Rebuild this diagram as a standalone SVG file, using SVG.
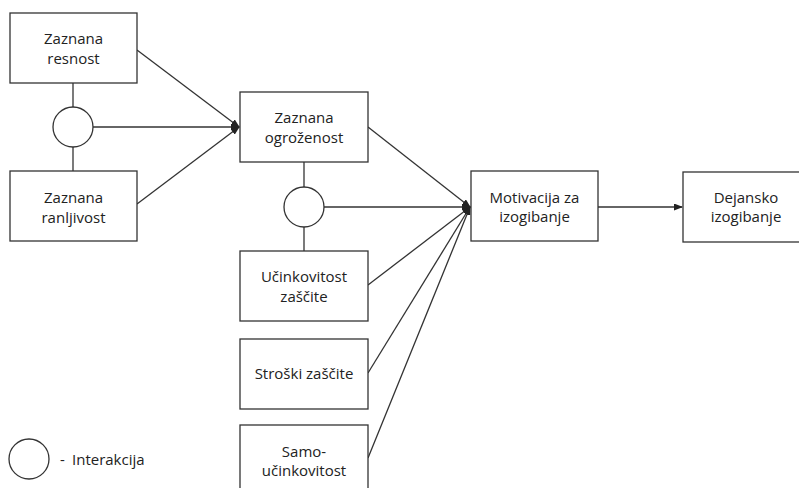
<svg xmlns="http://www.w3.org/2000/svg" width="799" height="488" viewBox="0 0 799 488">
<style>
.box{fill:#fff;stroke:#333;stroke-width:1.3}
.circ{fill:#fff;stroke:#333;stroke-width:1.3}
.ln{fill:none;stroke:#333;stroke-width:1.3}
.arr{fill:none;stroke:#333;stroke-width:1.3;marker-end:url(#ah)}
text{font-family:"Open Sans","Liberation Sans",sans-serif;font-size:15px;fill:#222;text-anchor:middle}
.lg{text-anchor:start}
</style>
<defs>
<marker id="ah" markerUnits="userSpaceOnUse" markerWidth="9" markerHeight="7" refX="8" refY="3.5" orient="auto">
<path d="M0,0 L9,3.5 L0,7 z" fill="#222"/>
</marker>
</defs>
<rect width="799" height="488" fill="#fff"/>
<g id="connectors">
<line class="ln" x1="73" y1="83" x2="73" y2="107"/>
<line class="ln" x1="73" y1="147" x2="73" y2="171"/>
<line class="arr" x1="137" y1="50" x2="239" y2="127"/>
<line class="arr" x1="93" y1="127" x2="239" y2="127"/>
<line class="arr" x1="137" y1="204" x2="239" y2="127"/>
<line class="ln" x1="304" y1="162" x2="304" y2="187"/>
<line class="ln" x1="304" y1="227" x2="304" y2="251"/>
<line class="arr" x1="368" y1="127" x2="470" y2="207"/>
<line class="arr" x1="324" y1="207" x2="470" y2="207"/>
<line class="arr" x1="368" y1="285" x2="470" y2="207"/>
<line class="arr" x1="368" y1="373" x2="470" y2="207"/>
<line class="arr" x1="368" y1="458" x2="470" y2="207"/>
<line class="arr" x1="598" y1="207" x2="682" y2="207"/>
</g>
<g id="n-resnost"><rect class="box" x="10" y="13" width="127" height="70"/><text x="73.5" y="44">Zaznana</text><text x="73.5" y="64">resnost</text></g>
<g id="i1"><circle class="circ" cx="73" cy="127" r="20"/></g>
<g id="n-ranljivost"><rect class="box" x="10" y="171" width="127" height="70"/><text x="73.5" y="203">Zaznana</text><text x="73.5" y="223">ranljivost</text></g>
<g id="n-ogrozenost"><rect class="box" x="240" y="92" width="128" height="70"/><text x="304" y="123">Zaznana</text><text x="304" y="143">ogroženost</text></g>
<g id="i2"><circle class="circ" cx="304" cy="207" r="20"/></g>
<g id="n-ucinkovitost"><rect class="box" x="240" y="251" width="128" height="70"/><text x="304" y="282">Učinkovitost</text><text x="304" y="302">zaščite</text></g>
<g id="n-stroski"><rect class="box" x="240" y="339" width="128" height="70"/><text x="304" y="379">Stroški zaščite</text></g>
<g id="n-samo"><rect class="box" x="240" y="425" width="128" height="70"/><text x="304" y="457">Samo-</text><text x="304" y="476">učinkovitost</text></g>
<g id="n-motivacija"><rect class="box" x="471" y="171" width="127" height="70"/><text x="534.5" y="203">Motivacija za</text><text x="534.5" y="222">izogibanje</text></g>
<g id="n-dejansko"><rect class="box" x="683" y="172" width="126" height="70"/><text x="746" y="203">Dejansko</text><text x="746" y="222">izogibanje</text></g>
<g id="legend"><circle class="circ" cx="29" cy="459" r="20"/><text class="lg" x="60" y="465">-</text><text class="lg" x="72" y="465">Interakcija</text></g>
</svg>
